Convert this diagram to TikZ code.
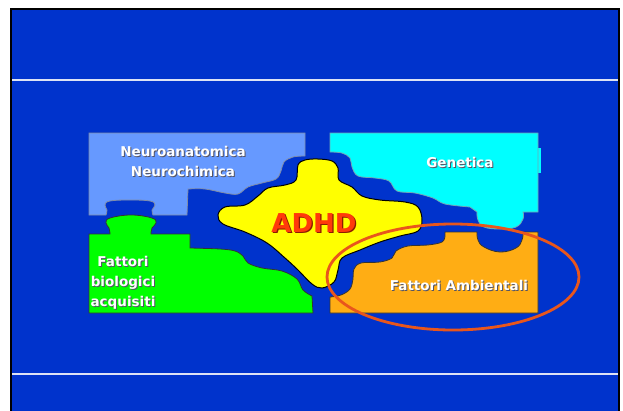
\documentclass[tikz,border=0pt]{standalone}
\usepackage{fontspec}
\newfontfamily\lblfont{DejaVu Sans}
\definecolor{bgblue}{HTML}{0033CC}
\definecolor{lbfill}{HTML}{6699FF}
\definecolor{lbline}{HTML}{7F8CA8}
\definecolor{cyfill}{HTML}{00FFFF}
\definecolor{cyline}{HTML}{6FA8B8}
\definecolor{grfill}{HTML}{00FF00}
\definecolor{orfill}{HTML}{FFAD14}
\definecolor{yefill}{HTML}{FFFF00}
\definecolor{adhdred}{HTML}{FF3A0A}
\definecolor{adhdshadow}{HTML}{8A1A00}
\definecolor{ellcol}{HTML}{E8561C}
\definecolor{rulecol}{HTML}{DDE3F5}
\definecolor{shadowgray}{HTML}{555566}
\tikzset{
  piece/.style={line width=0.8pt},
  lbpiece/.style={piece, fill=lbfill, draw=lbline},
  cypiece/.style={piece, fill=cyfill, draw=cyline},
  grpiece/.style={piece, fill=grfill, draw=black!80},
  orpiece/.style={piece, fill=orfill, draw=black!80},
  yepiece/.style={line width=1pt, fill=yefill, draw=black},
  lbl/.style={text=white, font=\lblfont\bfseries\fontsize{13.5}{20}\selectfont, inner sep=0pt, align=center},
  lblshadow/.style={lbl, text=shadowgray},
  adhd/.style={font=\lblfont\bfseries\fontsize{26}{30}\selectfont, inner sep=0pt, text=adhdred},
  rule/.style={draw=rulecol, line width=1.5pt}
}
\begin{document}
\begin{tikzpicture}[x=1pt,y=-1pt]
\useasboundingbox (0,0) rectangle (623,410);
\fill[white] (0,0) rectangle (623,410);
\fill[bgblue] (11,9) rectangle (620,414);
\draw[black, line width=2.5pt] (11,414) -- (11,9) -- (619,9) -- (619,414);
% horizontal rules
\coordinate (r1a) at (12,80); \coordinate (r1b) at (618,80);
\coordinate (r2a) at (12,374); \coordinate (r2b) at (618,374);
\draw[rule] (r1a) -- (r1b);
\draw[rule] (r2a) -- (r2b);
% light blue piece
\filldraw[lbpiece] (89,133) -- (305,133) -- (305,155) -- plot[smooth,tension=0.6] coordinates {(305,156) (293,157) (284,162) (281,171) (276,179) (262,183) (248,187) (238,194) (225,193) (205,189) (188,189)} -- (187,215) -- (153,215) -- plot[smooth,tension=0.7] coordinates {(153,215) (152,210) (155,205) (150,201) (130,200) (110,201) (105,205) (107,210) (106,215)} -- (89,215) -- cycle;
% cyan piece
\fill[cyfill] (536,148) rectangle (541,173);
\filldraw[cypiece] (330,133) -- (538,133) -- (538,212) -- (523,212) -- plot[smooth,tension=0.7] coordinates {(523,212) (523,219) (516,227) (500,229) (484,227) (478,220) (477,212)} -- plot[smooth,tension=0.6] coordinates {(470,207) (445,204) (433,198) (415,193) (397,191) (389,181) (375,178) (358,176) (352,167) (350,158) (342,153) (330,152)} -- cycle;
% green piece
\filldraw[grpiece] (89,234) -- (110,234) -- plot[smooth,tension=0.7] coordinates {(110,234) (109,228) (106,223) (110,218) (131,215) (152,218) (156,223) (152,228) (151,234)} -- (190,234) -- (190,248) -- plot[smooth,tension=0.6] coordinates {(190,248) (220,249) (235,251) (243,256) (248,263) (262,268) (282,271) (297,279) (303,290) (312,296)} -- (313,313) -- (89,313) -- cycle;
% orange piece
\filldraw[orpiece] (330,313) -- (330,297) -- plot[smooth,tension=0.6] coordinates {(330,297) (341,295) (350,289) (353,279) (354,269) (361,263) (380,262) (392,258) (396,251) (408,246) (428,245) (442,242) (445,236)} -- (445,232) -- (477,232) -- plot[smooth,tension=0.7] coordinates {(477,232) (478,240) (484,247) (500,252) (516,248) (522,240) (523,232)} -- (538,232) -- (538,313) -- cycle;
% yellow ADHD piece
\filldraw[yepiece] plot[smooth cycle,tension=0.6] coordinates {(298,165) (305,160) (318,159) (332,161) (338,168) (339,180) (352,187) (362,196) (380,200) (405,202) (418,207) (422,220) (418,231) (400,236) (380,242) (360,250) (342,258) (338,270) (334,282) (322,288) (312,284) (298,270) (285,258) (267,243) (245,232) (223,224) (218,215) (225,207) (245,205) (258,196) (268,188) (285,185) (296,180)};
% ellipse
\draw[ellcol, line width=2.8pt] (453,277) ellipse [x radius=126, y radius=53];
% texts
\node[adhd, text=adhdshadow] (adhds) at (315.2,224.2) {ADHD};
\node[adhd] (adhd) at (314,223) {ADHD};
\node[lblshadow] (neus) at (184,162) {Neuroanatomica\\Neurochimica};
\node[lbl] (neu) at (183,161) {Neuroanatomica\\Neurochimica};
\node[lblshadow] (gens) at (461,163) {Genetica};
\node[lbl] (gen) at (460,162) {Genetica};
\node[lblshadow] (bios) at (124,284) {Fattori\\biologici\\acquisiti};
\node[lbl] (bio) at (123,283) {Fattori\\biologici\\acquisiti};
\node[lblshadow] (amb) at (460,286) {Fattori Ambientali};
\node[lbl] (ambw) at (459,285) {Fattori Ambientali};
\end{tikzpicture}
\end{document}
